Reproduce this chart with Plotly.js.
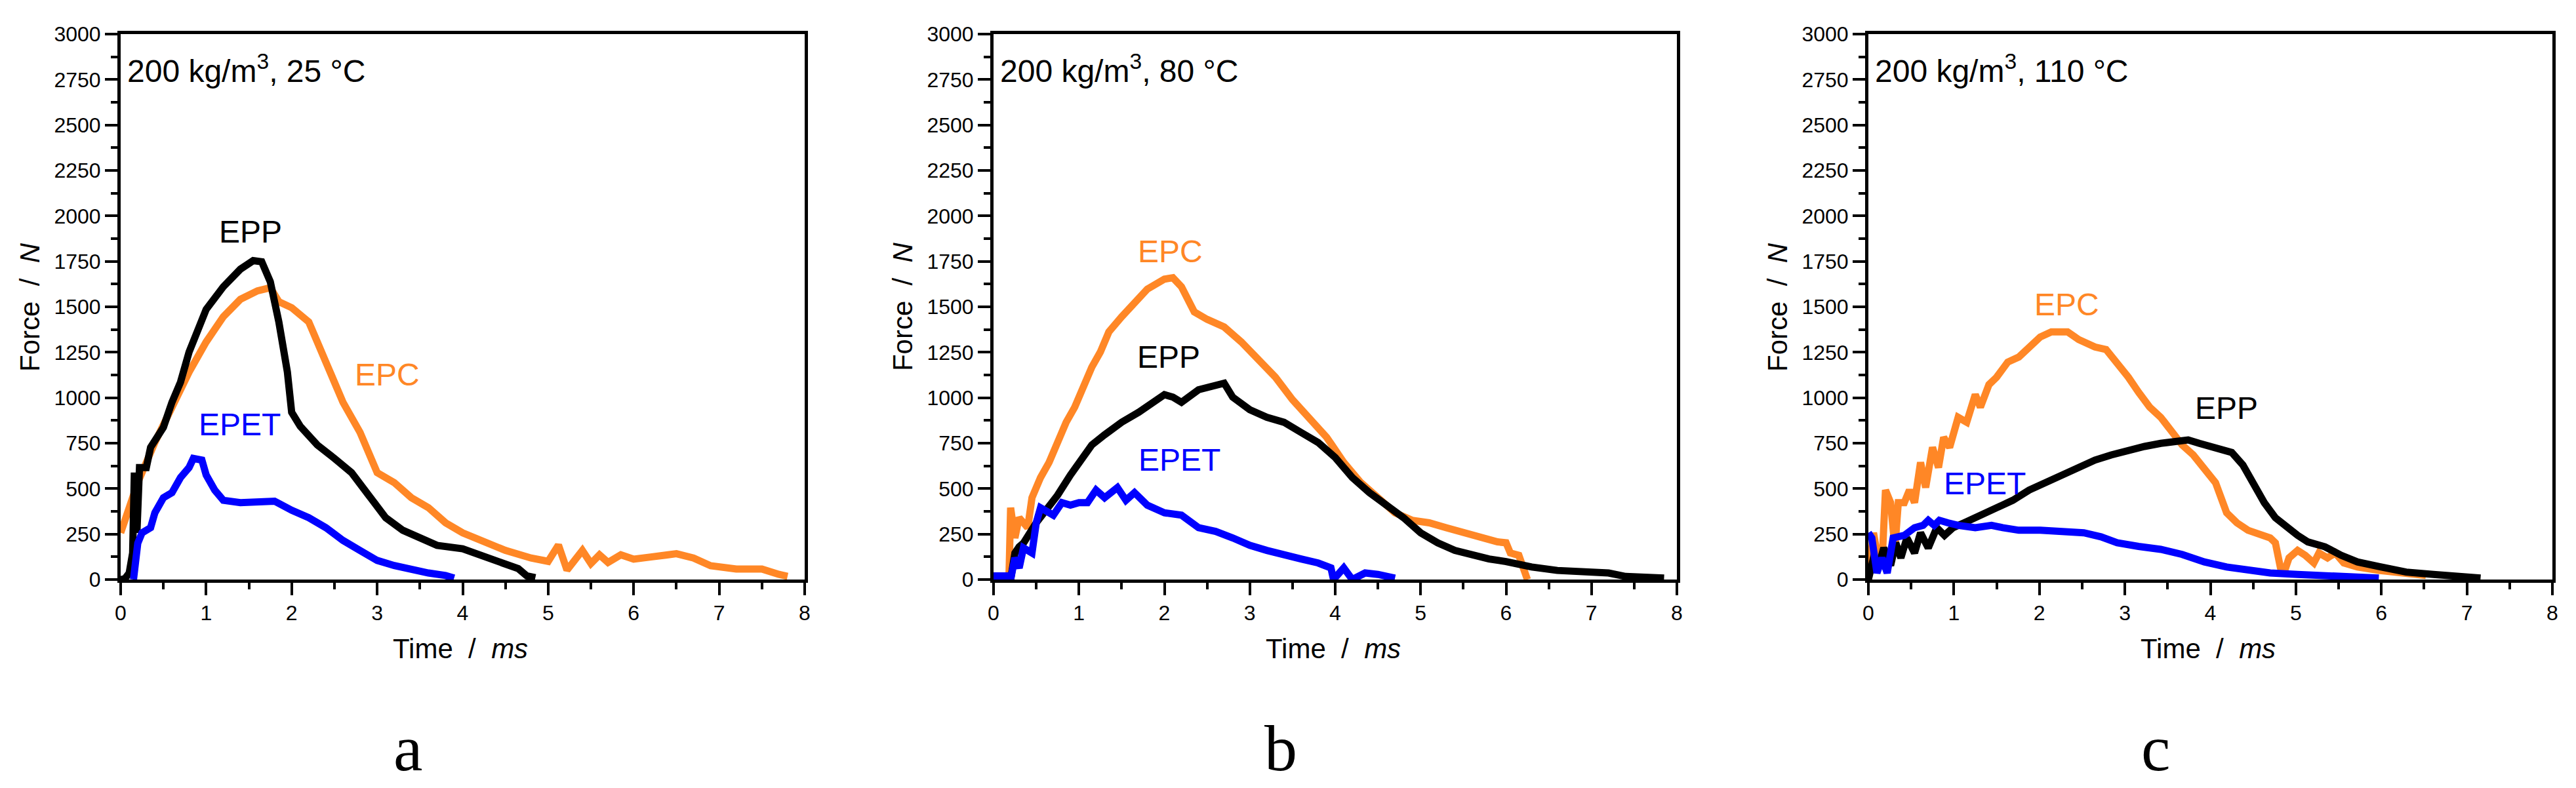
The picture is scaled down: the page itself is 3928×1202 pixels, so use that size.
<!DOCTYPE html>
<html>
<head>
<meta charset="utf-8">
<script src="https://cdn.plot.ly/plotly-3.0.1.min.js"></script>
<style>html,body{margin:0;padding:0;background:#fff;}#chart{width:3928px;height:1202px;}</style>
</head>
<body>
<div id="chart"></div>
<script>
// ---------- Panel a: 200 kg/m3, 25 °C ----------
const aEPP_t = [0,0.05,0.1,0.14,0.16,0.19,0.22,0.3,0.35,0.45,0.5,0.6,0.7,0.8,0.9,1.0,1.2,1.4,1.55,1.65,1.75,1.85,1.95,2.0,2.1,2.3,2.5,2.7,2.9,3.1,3.3,3.5,3.7,4.0,4.2,4.5,4.65,4.75,4.85];
const aEPP_f = [0,5,36,146,588,257,616,616,727,810,837,975,1086,1251,1362,1486,1610,1707,1754,1748,1638,1417,1141,920,843,740,666,588,464,340,271,224,188,169,138,86,60,20,10];
const aEPC_t = [0,0.2,0.4,0.6,0.8,1.0,1.2,1.4,1.6,1.75,1.85,2.0,2.2,2.4,2.6,2.8,3.0,3.2,3.4,3.6,3.8,4.0,4.2,4.5,4.8,5.0,5.12,5.22,5.4,5.5,5.6,5.7,5.85,6.0,6.2,6.5,6.7,6.9,7.2,7.5,7.7,7.8];
const aEPC_f = [257,533,754,948,1141,1307,1445,1541,1588,1605,1528,1495,1417,1196,975,809,588,533,450,395,312,257,215,160,118,100,190,52,160,88,136,94,136,112,124,142,118,76,58,58,28,18];
const aEPET_t = [0.15,0.2,0.25,0.35,0.4,0.5,0.6,0.7,0.8,0.85,0.95,1.0,1.1,1.2,1.4,1.6,1.8,2.0,2.2,2.4,2.6,2.8,3.0,3.2,3.4,3.6,3.8,3.9];
const aEPET_f = [0,200,257,285,367,450,478,561,616,666,657,575,492,436,423,423,431,381,340,285,215,160,105,77,55,36,22,8];

// ---------- Panel b: 200 kg/m3, 80 °C ----------
const bEPP_t = [0.2,0.25,0.3,0.35,0.5,0.6,0.75,0.9,1.0,1.15,1.3,1.5,1.7,1.9,2.0,2.1,2.2,2.4,2.6,2.7,2.8,3.0,3.2,3.4,3.6,3.8,4.0,4.2,4.4,4.6,4.8,5.0,5.2,5.4,5.6,5.8,6.0,6.3,6.6,7.0,7.2,7.4,7.6,7.85];
const bEPP_f = [0,146,180,200,312,367,464,575,644,740,796,865,920,989,1017,1003,975,1044,1064,1080,1003,934,892,865,809,754,671,561,478,409,340,257,202,160,133,113,99,69,50,36,36,17,14,8];
const bEPC_t = [0,0.18,0.2,0.25,0.3,0.4,0.45,0.55,0.65,0.75,0.85,0.95,1.05,1.15,1.25,1.35,1.5,1.65,1.8,2.0,2.1,2.2,2.35,2.5,2.7,2.9,3.1,3.3,3.5,3.7,3.9,4.1,4.3,4.5,4.7,4.9,5.1,5.3,5.5,5.7,5.9,6.0,6.05,6.15,6.2,6.25];
const bEPC_f = [0,0,395,229,340,285,450,561,644,754,865,948,1058,1168,1251,1362,1445,1528,1597,1652,1660,1610,1472,1431,1389,1307,1210,1113,989,892,782,644,533,450,367,326,312,285,257,229,207,202,146,133,64,0];
const bEPET_t = [0,0.18,0.2,0.25,0.3,0.35,0.45,0.5,0.55,0.7,0.8,0.9,1.0,1.1,1.2,1.3,1.45,1.55,1.65,1.8,2.0,2.2,2.4,2.6,2.8,3.0,3.2,3.4,3.6,3.8,3.95,3.98,4.1,4.2,4.35,4.5,4.7];
const bEPET_f = [20,20,0,119,64,174,146,312,395,354,423,409,423,423,492,450,506,436,478,409,367,354,285,265,229,188,160,133,113,91,64,0,64,0,36,28,8];

// ---------- Panel c: 200 kg/m3, 110 °C ----------
const cEPP_t = [0,0.06,0.13,0.18,0.26,0.32,0.38,0.45,0.54,0.61,0.70,0.80,0.89,0.99,1.12,1.25,1.37,1.50,1.69,1.88,2.08,2.27,2.46,2.65,2.84,3.04,3.23,3.42,3.61,3.74,3.87,4.06,4.25,4.38,4.50,4.63,4.76,4.89,5.02,5.14,5.34,5.53,5.72,5.97,6.29,6.61,6.93,7.16];
const cEPP_f = [0,119,91,174,77,202,119,229,146,257,174,285,243,285,312,340,367,395,436,492,533,575,616,657,685,713,732,749,760,768,749,727,699,630,533,423,340,285,243,207,180,133,97,72,41,28,17,8];
const cEPC_t = [0,0.06,0.12,0.16,0.20,0.26,0.31,0.35,0.42,0.48,0.54,0.61,0.67,0.75,0.82,0.88,0.95,1.05,1.15,1.25,1.31,1.41,1.50,1.63,1.76,1.88,2.01,2.14,2.33,2.46,2.65,2.78,2.91,3.04,3.16,3.29,3.42,3.55,3.67,3.80,3.93,4.06,4.19,4.31,4.44,4.57,4.70,4.76,4.82,4.86,4.92,5.02,5.11,5.21,5.27,5.37,5.46,5.56,5.72,5.97,6.17,6.36,6.52];
const cEPC_f = [0,257,91,91,492,423,174,423,423,492,423,644,506,727,616,782,727,892,865,1017,948,1072,1113,1196,1224,1279,1334,1362,1362,1320,1279,1265,1196,1113,1030,948,892,809,740,685,602,533,367,312,271,251,229,202,64,36,119,160,133,91,146,119,146,91,69,50,41,28,22];
const cEPET_t = [0,0.04,0.10,0.16,0.22,0.29,0.42,0.54,0.64,0.70,0.77,0.83,0.93,1.05,1.25,1.44,1.57,1.76,2.01,2.27,2.52,2.72,2.91,3.16,3.42,3.67,3.93,4.19,4.44,4.70,5.02,5.34,5.65,5.97];
const cEPET_f = [257,229,36,119,36,229,243,285,298,326,298,326,312,298,285,298,285,271,271,262,257,235,202,182,166,138,97,69,50,36,28,19,14,8];

// ---------- Labels ----------
const panelNotes = ['200 kg/m<sup>3</sup>, 25 °C', '200 kg/m<sup>3</sup>, 80 °C', '200 kg/m<sup>3</sup>, 110 °C'];
const panelLetters = ['a', 'b', 'c'];
const seriesNames = ['EPP', 'EPC', 'EPET'];
// label anchor positions [x, y] (data units) per panel, in seriesNames order
const labelPosA = [[1.52, 1914], [3.12, 1127], [1.39, 851]];
const labelPosB = [[2.05, 1224], [2.07, 1804], [2.18, 657]];
const labelPosC = [[4.19, 942], [2.32, 1514], [1.36, 528]];
const xTitle = 'Time\u00a0\u00a0/\u00a0\u00a0<i>ms</i>';
const yTitle = 'Force\u00a0\u00a0/\u00a0\u00a0<i>N</i>';

const colors = {EPP: '#000000', EPC: '#FF8726', EPET: '#0000FF'};
const FONT = 'Liberation Sans, Arial, sans-serif';

const panels = [
  {t: [aEPP_t, aEPC_t, aEPET_t], f: [aEPP_f, aEPC_f, aEPET_f], lab: labelPosA},
  {t: [bEPP_t, bEPC_t, bEPET_t], f: [bEPP_f, bEPC_f, bEPET_f], lab: labelPosB},
  {t: [cEPP_t, cEPC_t, cEPET_t], f: [cEPP_f, cEPC_f, cEPET_f], lab: labelPosC}
];

const W = 3928, H = 1202;
const xDomains = [[184/W, 1227/W], [1515/W, 2557/W], [2849/W, 3892/W]];
const yDomain = [(H-884)/H, (H-52)/H];

const traces = [];
const annotations = [];
const layout = {
  width: W, height: H,
  margin: {l: 0, r: 0, t: 0, b: 0},
  paper_bgcolor: '#fff', plot_bgcolor: '#fff',
  showlegend: false,
  font: {family: FONT, color: '#000'}
};

panels.forEach((p, i) => {
  const xa = i === 0 ? 'x' : 'x' + (i+1);
  const ya = i === 0 ? 'y' : 'y' + (i+1);
  const xkey = i === 0 ? 'xaxis' : 'xaxis' + (i+1);
  const ykey = i === 0 ? 'yaxis' : 'yaxis' + (i+1);
  [1, 0, 2].forEach(k => {
    traces.push({
      x: p.t[k], y: p.f[k], xaxis: xa, yaxis: ya,
      type: 'scatter', mode: 'lines', cliponaxis: false,
      line: {color: colors[seriesNames[k]], width: 11, shape: 'linear'},
      name: seriesNames[k]
    });
    annotations.push({
      xref: xa, yref: ya, x: p.lab[k][0], y: p.lab[k][1],
      text: seriesNames[k], showarrow: false,
      xanchor: 'center', yanchor: 'middle',
      font: {family: FONT, size: 48, color: colors[seriesNames[k]]}
    });
  });
  layout[xkey] = {
    domain: xDomains[i], anchor: ya, range: [0, 8], dtick: 1, tick0: 0,
    showline: true, linewidth: 5, linecolor: '#000', mirror: true,
    ticks: 'outside', ticklen: 19, tickwidth: 4, tickcolor: '#000',
    minor: {dtick: 0.5, ticks: 'outside', ticklen: 10, tickwidth: 4, tickcolor: '#000'},
    showgrid: false, zeroline: false,
    tickfont: {family: FONT, size: 32, color: '#000'}
  };
  layout[ykey] = {
    domain: yDomain, anchor: xa, range: [0, 3000], dtick: 250, tick0: 0,
    showline: true, linewidth: 5, linecolor: '#000', mirror: true,
    ticks: 'outside', ticklen: 19, tickwidth: 4, tickcolor: '#000',
    minor: {dtick: 125, ticks: 'outside', ticklen: 10, tickwidth: 4, tickcolor: '#000'},
    showgrid: false, zeroline: false,
    tickfont: {family: FONT, size: 32, color: '#000'}
  };
  annotations.push({
    xref: xa + ' domain', yref: ya + ' domain', x: 0.008, y: 0.975,
    xanchor: 'left', yanchor: 'top', showarrow: false,
    text: panelNotes[i], font: {family: FONT, size: 48, color: '#000'}
  });
  annotations.push({
    xref: xa + ' domain', yref: ya + ' domain', x: 0.497, y: -0.127,
    xanchor: 'center', yanchor: 'middle', showarrow: false,
    text: xTitle, font: {family: FONT, size: 42, color: '#000'}
  });
  annotations.push({
    xref: xa + ' domain', yref: ya + ' domain', x: -0.1333, y: 0.5,
    xanchor: 'center', yanchor: 'middle', showarrow: false, textangle: -90,
    text: yTitle, font: {family: FONT, size: 42, color: '#000'}
  });
  annotations.push({
    xref: xa + ' domain', yref: ya + ' domain', x: 0.42, y: -0.31,
    xanchor: 'center', yanchor: 'middle', showarrow: false,
    text: panelLetters[i], font: {family: 'Liberation Serif, Times New Roman, serif', size: 100, color: '#000'}
  });
});
layout.annotations = annotations;

Plotly.newPlot('chart', traces, layout, {staticPlot: true, displayModeBar: false});
</script>
</body>
</html>
